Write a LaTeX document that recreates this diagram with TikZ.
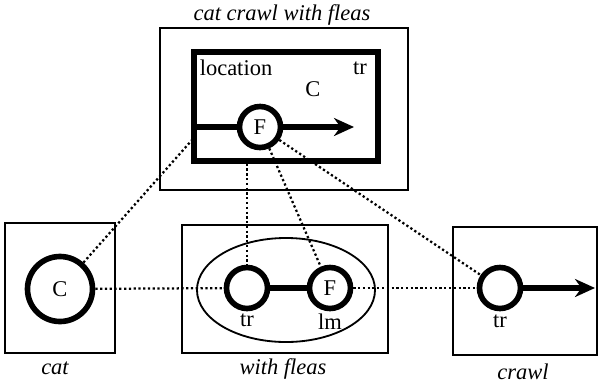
\documentclass[tikz,border=0pt]{standalone}
\usepackage{fontspec}
\setmainfont{Liberation Serif}
\usetikzlibrary{arrows.meta, positioning, shapes.geometric}

\begin{document}
\begin{tikzpicture}[x=0.025cm, y=-0.025cm,
    frame/.style={rectangle, draw, line width=1.3pt, inner sep=0pt},
    thickframe/.style={rectangle, draw, line width=3.8pt, inner sep=0pt},
    role/.style={circle, draw, line width=4pt, minimum size=1.025cm, inner sep=0pt, font=\fontsize{16}{19}\selectfont},
    link/.style={line width=1.6pt, dash pattern=on 1.6pt off 1.8pt},
    bond/.style={line width=3.8pt},
    arrow/.style={-{Stealth[length=5mm, width=4.5mm]}, line width=3.8pt},
    caption/.style={font=\fontsize{16}{19}\selectfont\itshape},
    tag/.style={font=\fontsize{16}{19}\selectfont}
]
\useasboundingbox (0,0) rectangle (600,384);

% composite structure
\node[frame, minimum width=6.2cm, minimum height=4.05cm] (whole) at (284,109) {};
\node[thickframe, minimum width=4.6cm, minimum height=2.725cm] (locbox) at (286,106.5) {};
\node[caption] (wholecap) at (282,15) {cat crawl with fleas};
\node[tag] (loctag) at (236,68) {location};
\node[tag] (loctr) at (360,68) {tr};
\node[tag] (locC) at (313,89) {C};
\node[role] (topF) at (260,127) {F};
\coordinate (topend) at (354,127);
\coordinate (locleft) at (192,140);

% component structures
\node[frame, minimum width=2.75cm, minimum height=3.25cm] (catbox) at (60,288) {};
\node[frame, minimum width=5.15cm, minimum height=3.2cm] (withbox) at (285,289) {};
\node[frame, minimum width=3.6cm, minimum height=3.2cm] (crawlbox) at (525,291) {};
\node[ellipse, draw, line width=1.3pt, minimum width=4.45cm, minimum height=2.6cm] (withell) at (286,290) {};

\node[role, minimum size=1.625cm] (catC) at (60,289) {C};
\node[role] (midtr) at (247,288) {};
\node[role] (midF) at (330,288) {F};
\node[role] (crawltr) at (500,288) {};
\coordinate (crawlend) at (595,288);

\node[tag, below=-2pt of midtr] (midtrtag) {tr};
\node[tag, below=-2pt of midF] (midlmtag) {lm};
\node[tag, below=-1pt of crawltr] (crawltrtag) {tr};

\node[caption] (catcap) at (55,368) {cat};
\node[caption] (withcap) at (283,369) {with fleas};
\node[caption] (crawlcap) at (523,372) {crawl};

% solid relations
\draw[bond] (locbox.west |- topF) -- (topF);
\draw[arrow] (topF) -- (topend);
\draw[bond] (midtr) -- (midF);
\draw[arrow] (crawltr) -- (crawlend);

% correspondences
\draw[link] (catC) -- (locleft);
\draw[link] (locbox.south -| midtr) -- (midtr);
\draw[link] (topF) -- (midF);
\draw[link] (topF) -- (crawltr);
\draw[link] (catC) -- (midtr);
\draw[link] (midF) -- (crawltr);
\end{tikzpicture}
\end{document}
